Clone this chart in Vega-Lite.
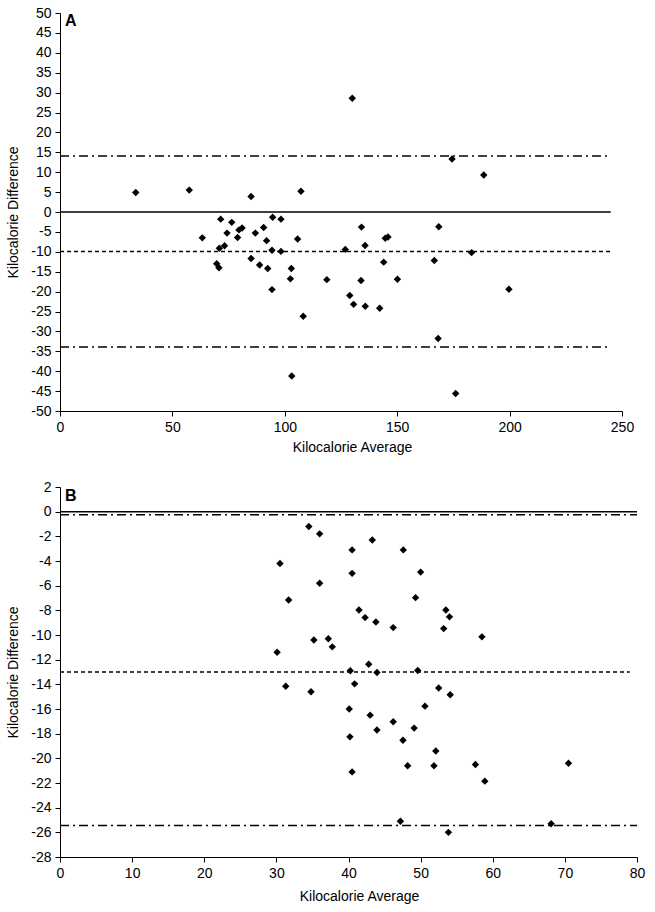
{
  "$schema": "https://vega.github.io/schema/vega-lite/v6.json",
  "padding": {"left": 6, "top": 6, "right": 10, "bottom": 4},
  "spacing": 26,
  "background": "white",
  "config": {
    "view": {"stroke": null},
    "font": "Liberation Sans",
    "axis": {
      "grid": false,
      "domainColor": "#000000",
      "domainWidth": 1,
      "tickColor": "#000000",
      "tickSize": 5,
      "labelColor": "#000000",
      "labelFont": "Liberation Sans",
      "labelFontSize": 14,
      "labelPadding": 4,
      "titleColor": "#000000",
      "titleFont": "Liberation Sans",
      "titleFontSize": 14,
      "titleFontWeight": "normal",
      "labelFlush": false,
      "labelOverlap": false
    }
  },
  "datasets": {
    "a_points": [
      {"avg": 33.7, "diff": 4.9}, {"avg": 57.5, "diff": 5.5}, {"avg": 63.3, "diff": -6.5},
      {"avg": 71.5, "diff": -1.8}, {"avg": 76.4, "diff": -2.6}, {"avg": 74.3, "diff": -5.3},
      {"avg": 79.0, "diff": -6.4}, {"avg": 79.6, "diff": -4.5}, {"avg": 81.0, "diff": -4.0},
      {"avg": 70.9, "diff": -9.1}, {"avg": 73.2, "diff": -8.5}, {"avg": 69.7, "diff": -13.0},
      {"avg": 70.7, "diff": -14.0}, {"avg": 85.0, "diff": 3.9}, {"avg": 86.9, "diff": -5.3},
      {"avg": 90.6, "diff": -3.9}, {"avg": 94.6, "diff": -1.3}, {"avg": 98.3, "diff": -1.8},
      {"avg": 91.9, "diff": -7.2}, {"avg": 94.3, "diff": -9.6}, {"avg": 98.3, "diff": -9.9},
      {"avg": 85.0, "diff": -11.7}, {"avg": 88.8, "diff": -13.3}, {"avg": 92.4, "diff": -14.2},
      {"avg": 94.3, "diff": -19.5}, {"avg": 102.9, "diff": -14.2}, {"avg": 102.5, "diff": -16.8},
      {"avg": 107.2, "diff": 5.2}, {"avg": 105.7, "diff": -6.8}, {"avg": 108.2, "diff": -26.2},
      {"avg": 103.1, "diff": -41.2}, {"avg": 118.7, "diff": -17.0}, {"avg": 130.0, "diff": 28.6},
      {"avg": 174.4, "diff": 13.3}, {"avg": 188.5, "diff": 9.3}, {"avg": 134.1, "diff": -3.8},
      {"avg": 168.5, "diff": -3.7}, {"avg": 144.7, "diff": -6.6}, {"avg": 145.9, "diff": -6.3},
      {"avg": 135.7, "diff": -8.4}, {"avg": 126.9, "diff": -9.4}, {"avg": 183.1, "diff": -10.2},
      {"avg": 166.5, "diff": -12.2}, {"avg": 144.0, "diff": -12.6}, {"avg": 133.9, "diff": -17.2},
      {"avg": 150.1, "diff": -16.9}, {"avg": 128.9, "diff": -21.0}, {"avg": 130.6, "diff": -23.2},
      {"avg": 135.8, "diff": -23.7}, {"avg": 142.2, "diff": -24.2}, {"avg": 199.7, "diff": -19.4},
      {"avg": 168.2, "diff": -31.8}, {"avg": 176.0, "diff": -45.6}
    ],
    "b_points": [
      {"avg": 30.5, "diff": -4.2}, {"avg": 31.7, "diff": -7.16}, {"avg": 30.1, "diff": -11.4},
      {"avg": 31.3, "diff": -14.15}, {"avg": 34.5, "diff": -1.2}, {"avg": 36.0, "diff": -1.8},
      {"avg": 36.0, "diff": -5.8}, {"avg": 35.2, "diff": -10.4}, {"avg": 34.8, "diff": -14.6},
      {"avg": 37.2, "diff": -10.3}, {"avg": 37.75, "diff": -10.96}, {"avg": 43.3, "diff": -2.3},
      {"avg": 40.5, "diff": -3.1}, {"avg": 47.6, "diff": -3.1}, {"avg": 40.5, "diff": -5.0},
      {"avg": 50.0, "diff": -4.9}, {"avg": 49.3, "diff": -6.97}, {"avg": 41.45, "diff": -7.97},
      {"avg": 42.3, "diff": -8.59}, {"avg": 43.8, "diff": -8.94}, {"avg": 46.2, "diff": -9.4},
      {"avg": 53.5, "diff": -7.97}, {"avg": 54.0, "diff": -8.53}, {"avg": 53.2, "diff": -9.48},
      {"avg": 58.5, "diff": -10.15}, {"avg": 42.8, "diff": -12.37}, {"avg": 40.25, "diff": -12.9},
      {"avg": 43.95, "diff": -13.04}, {"avg": 49.6, "diff": -12.88}, {"avg": 40.85, "diff": -13.96},
      {"avg": 52.5, "diff": -14.3}, {"avg": 54.1, "diff": -14.85}, {"avg": 50.6, "diff": -15.77},
      {"avg": 40.1, "diff": -16.0}, {"avg": 43.0, "diff": -16.5}, {"avg": 46.2, "diff": -17.04},
      {"avg": 43.95, "diff": -17.7}, {"avg": 49.1, "diff": -17.55}, {"avg": 40.2, "diff": -18.26},
      {"avg": 47.55, "diff": -18.53}, {"avg": 52.1, "diff": -19.4}, {"avg": 48.2, "diff": -20.6},
      {"avg": 51.85, "diff": -20.6}, {"avg": 57.6, "diff": -20.5}, {"avg": 70.5, "diff": -20.4},
      {"avg": 40.5, "diff": -21.1}, {"avg": 58.9, "diff": -21.85}, {"avg": 47.2, "diff": -25.1},
      {"avg": 68.1, "diff": -25.3}, {"avg": 53.85, "diff": -26.0}
    ],
    "a_lines": [
      {"kind": "solid", "y": 0, "x0": 0, "x1": 245},
      {"kind": "dashed", "y": -9.9, "x0": 0, "x1": 245},
      {"kind": "dashdot", "y": 14.1, "x0": 0, "x1": 245},
      {"kind": "dashdot", "y": -33.9, "x0": 0, "x1": 245}
    ],
    "b_lines": [
      {"kind": "solid", "y": 0, "x0": 0, "x1": 80},
      {"kind": "dashed", "y": -13.0, "x0": 0, "x1": 79},
      {"kind": "dashdot", "y": -0.25, "x0": 0, "x1": 80},
      {"kind": "dashdot", "y": -25.45, "x0": 0, "x1": 80}
    ]
  },
  "vconcat": [
    {
      "width": 562,
      "height": 398,
      "layer": [
        {
          "data": {"name": "a_lines"},
          "mark": {"type": "rule", "color": "#000000", "strokeWidth": 1.5},
          "encoding": {
            "x": {"field": "x0", "type": "quantitative", "scale": {"domain": [0, 250], "nice": false},
                  "axis": {"values": [0, 50, 100, 150, 200, 250], "tickCount": 100, "format": "d", "title": "Kilocalorie Average", "titleX": 292, "titlePadding": 6, "labelOverlap": false}},
            "x2": {"field": "x1"},
            "y": {"field": "y", "type": "quantitative", "scale": {"domain": [-50, 50], "nice": false},
                  "axis": {"values": [-50, -45, -40, -35, -30, -25, -20, -15, -10, -5, 0, 5, 10, 15, 20, 25, 30, 35, 40, 45, 50], "tickCount": 100, "format": "d", "labelExpr": "replace(datum.label, '−', '-')", "title": "Kilocalorie Difference", "titlePadding": 10, "labelOverlap": false}},
            "strokeDash": {"field": "kind", "type": "nominal", "legend": null,
                           "scale": {"domain": ["solid", "dashed", "dashdot"], "range": [[1, 0], [4, 3], [9, 4, 2, 4]]}}
          }
        },
        {
          "data": {"name": "a_points"},
          "mark": {"type": "point", "shape": "diamond", "filled": true, "color": "#000000", "size": 55, "opacity": 1},
          "encoding": {
            "x": {"field": "avg", "type": "quantitative"},
            "y": {"field": "diff", "type": "quantitative"}
          }
        },
        {
          "data": {"values": [{"label": "A"}]},
          "mark": {"type": "text", "align": "left", "baseline": "top", "fontSize": 16, "fontWeight": "bold", "font": "Liberation Sans", "color": "#000000", "dx": 5, "dy": 0},
          "encoding": {
            "x": {"datum": 0, "type": "quantitative"},
            "y": {"datum": 50, "type": "quantitative"},
            "text": {"field": "label"}
          }
        }
      ]
    },
    {
      "width": 577,
      "height": 370,
      "layer": [
        {
          "data": {"name": "b_lines"},
          "mark": {"type": "rule", "color": "#000000", "strokeWidth": 1.5},
          "encoding": {
            "x": {"field": "x0", "type": "quantitative", "scale": {"domain": [0, 80], "nice": false},
                  "axis": {"values": [0, 10, 20, 30, 40, 50, 60, 70, 80], "tickCount": 100, "format": "d", "title": "Kilocalorie Average", "titleX": 299, "titlePadding": 9, "labelOverlap": false}},
            "x2": {"field": "x1"},
            "y": {"field": "y", "type": "quantitative", "scale": {"domain": [-28, 2], "nice": false},
                  "axis": {"values": [-28, -26, -24, -22, -20, -18, -16, -14, -12, -10, -8, -6, -4, -2, 0, 2], "tickCount": 100, "format": "d", "labelExpr": "replace(datum.label, '−', '-')", "title": "Kilocalorie Difference", "titlePadding": 10, "labelOverlap": false}},
            "strokeDash": {"field": "kind", "type": "nominal", "legend": null,
                           "scale": {"domain": ["solid", "dashed", "dashdot"], "range": [[1, 0], [4, 3], [9, 4, 2, 4]]}}
          }
        },
        {
          "data": {"name": "b_points"},
          "mark": {"type": "point", "shape": "diamond", "filled": true, "color": "#000000", "size": 55, "opacity": 1},
          "encoding": {
            "x": {"field": "avg", "type": "quantitative"},
            "y": {"field": "diff", "type": "quantitative"}
          }
        },
        {
          "data": {"values": [{"label": "B"}]},
          "mark": {"type": "text", "align": "left", "baseline": "top", "fontSize": 16, "fontWeight": "bold", "font": "Liberation Sans", "color": "#000000", "dx": 5, "dy": 1},
          "encoding": {
            "x": {"datum": 0, "type": "quantitative"},
            "y": {"datum": 2, "type": "quantitative"},
            "text": {"field": "label"}
          }
        }
      ]
    }
  ]
}
